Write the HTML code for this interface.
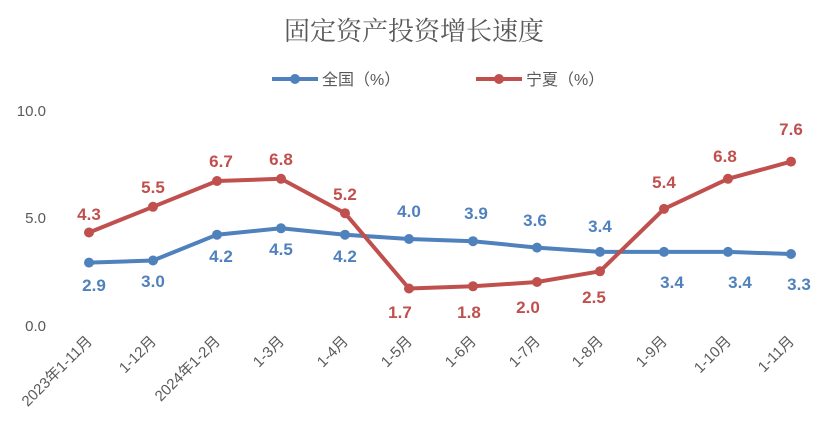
<!DOCTYPE html>
<html><head><meta charset="utf-8"><style>
html,body{margin:0;padding:0;background:#fff;}
svg{display:block;font-family:"Liberation Sans","Noto Sans CJK SC",sans-serif;}
</style></head><body>
<svg width="827" height="444" viewBox="0 0 827 444" xmlns="http://www.w3.org/2000/svg">
<rect width="827" height="444" fill="#fff"/>
<text x="414" y="40" text-anchor="middle" font-size="26" fill="#595959" font-family="'Noto Serif CJK SC','Noto Sans CJK SC',serif">固定资产投资增长速度</text>
<line x1="272" y1="79" x2="318" y2="79" stroke="#4F81BD" stroke-width="4"/>
<circle cx="295" cy="79" r="5" fill="#4F81BD"/>
<text x="322" y="85" font-size="16" fill="#595959">全国（%）</text>
<line x1="476" y1="79" x2="522" y2="79" stroke="#C0504D" stroke-width="4"/>
<circle cx="499" cy="79" r="5" fill="#C0504D"/>
<text x="526" y="85" font-size="16" fill="#595959">宁夏（%）</text>
<g font-size="15" fill="#595959" text-anchor="end">
<text x="46" y="116">10.0</text>
<text x="46" y="223">5.0</text>
<text x="46" y="331">0.0</text>
</g>
<g font-size="15" fill="#595959" text-anchor="end">
<text transform="translate(93,342) rotate(-45)">2023年1-11月</text>
<text transform="translate(157,342) rotate(-45)">1-12月</text>
<text transform="translate(221,342) rotate(-45)">2024年1-2月</text>
<text transform="translate(285,342) rotate(-45)">1-3月</text>
<text transform="translate(349,342) rotate(-45)">1-4月</text>
<text transform="translate(413,342) rotate(-45)">1-5月</text>
<text transform="translate(477,342) rotate(-45)">1-6月</text>
<text transform="translate(541,342) rotate(-45)">1-7月</text>
<text transform="translate(604,342) rotate(-45)">1-8月</text>
<text transform="translate(668,342) rotate(-45)">1-9月</text>
<text transform="translate(732,342) rotate(-45)">1-10月</text>
<text transform="translate(795,342) rotate(-45)">1-11月</text>
</g>
<polyline fill="none" stroke="#4F81BD" stroke-width="4" stroke-linejoin="round" points="89,262.6 153,260.5 217,234.7 281,228.3 345,234.7 409,239 473,241.2 537,247.6 600,251.9 664,251.9 728,251.9 791,254"/>
<g fill="#4F81BD">
<circle cx="89" cy="262.6" r="5"/><circle cx="153" cy="260.5" r="5"/><circle cx="217" cy="234.7" r="5"/><circle cx="281" cy="228.3" r="5"/><circle cx="345" cy="234.7" r="5"/><circle cx="409" cy="239" r="5"/><circle cx="473" cy="241.2" r="5"/><circle cx="537" cy="247.6" r="5"/><circle cx="600" cy="251.9" r="5"/><circle cx="664" cy="251.9" r="5"/><circle cx="728" cy="251.9" r="5"/><circle cx="791" cy="254" r="5"/>
</g>
<polyline fill="none" stroke="#C0504D" stroke-width="4" stroke-linejoin="round" points="89,232.5 153,206.8 217,181 281,178.8 345,213.2 409,288.5 473,286.3 537,282 600,271.3 664,208.9 728,178.8 791,161.6"/>
<g fill="#C0504D">
<circle cx="89" cy="232.5" r="5"/><circle cx="153" cy="206.8" r="5"/><circle cx="217" cy="181" r="5"/><circle cx="281" cy="178.8" r="5"/><circle cx="345" cy="213.2" r="5"/><circle cx="409" cy="288.5" r="5"/><circle cx="473" cy="286.3" r="5"/><circle cx="537" cy="282" r="5"/><circle cx="600" cy="271.3" r="5"/><circle cx="664" cy="208.9" r="5"/><circle cx="728" cy="178.8" r="5"/><circle cx="791" cy="161.6" r="5"/>
</g>
<g font-size="17" font-weight="bold" fill="#4F81BD" text-anchor="middle">
<text x="94" y="291">2.9</text><text x="153" y="287">3.0</text><text x="221" y="262">4.2</text><text x="281" y="255">4.5</text><text x="345" y="262">4.2</text><text x="409" y="217">4.0</text><text x="476" y="219">3.9</text><text x="535" y="226">3.6</text><text x="600" y="232">3.4</text><text x="672" y="288">3.4</text><text x="740" y="288">3.4</text><text x="799" y="290">3.3</text>
</g>
<g font-size="17" font-weight="bold" fill="#C0504D" text-anchor="middle">
<text x="89" y="220">4.3</text><text x="153" y="193">5.5</text><text x="221" y="167">6.7</text><text x="281" y="165">6.8</text><text x="345" y="200">5.2</text><text x="400" y="318">1.7</text><text x="469" y="318">1.8</text><text x="528" y="313">2.0</text><text x="594" y="303">2.5</text><text x="664" y="188">5.4</text><text x="725" y="162">6.8</text><text x="791" y="135">7.6</text>
</g>
</svg>
</body></html>
